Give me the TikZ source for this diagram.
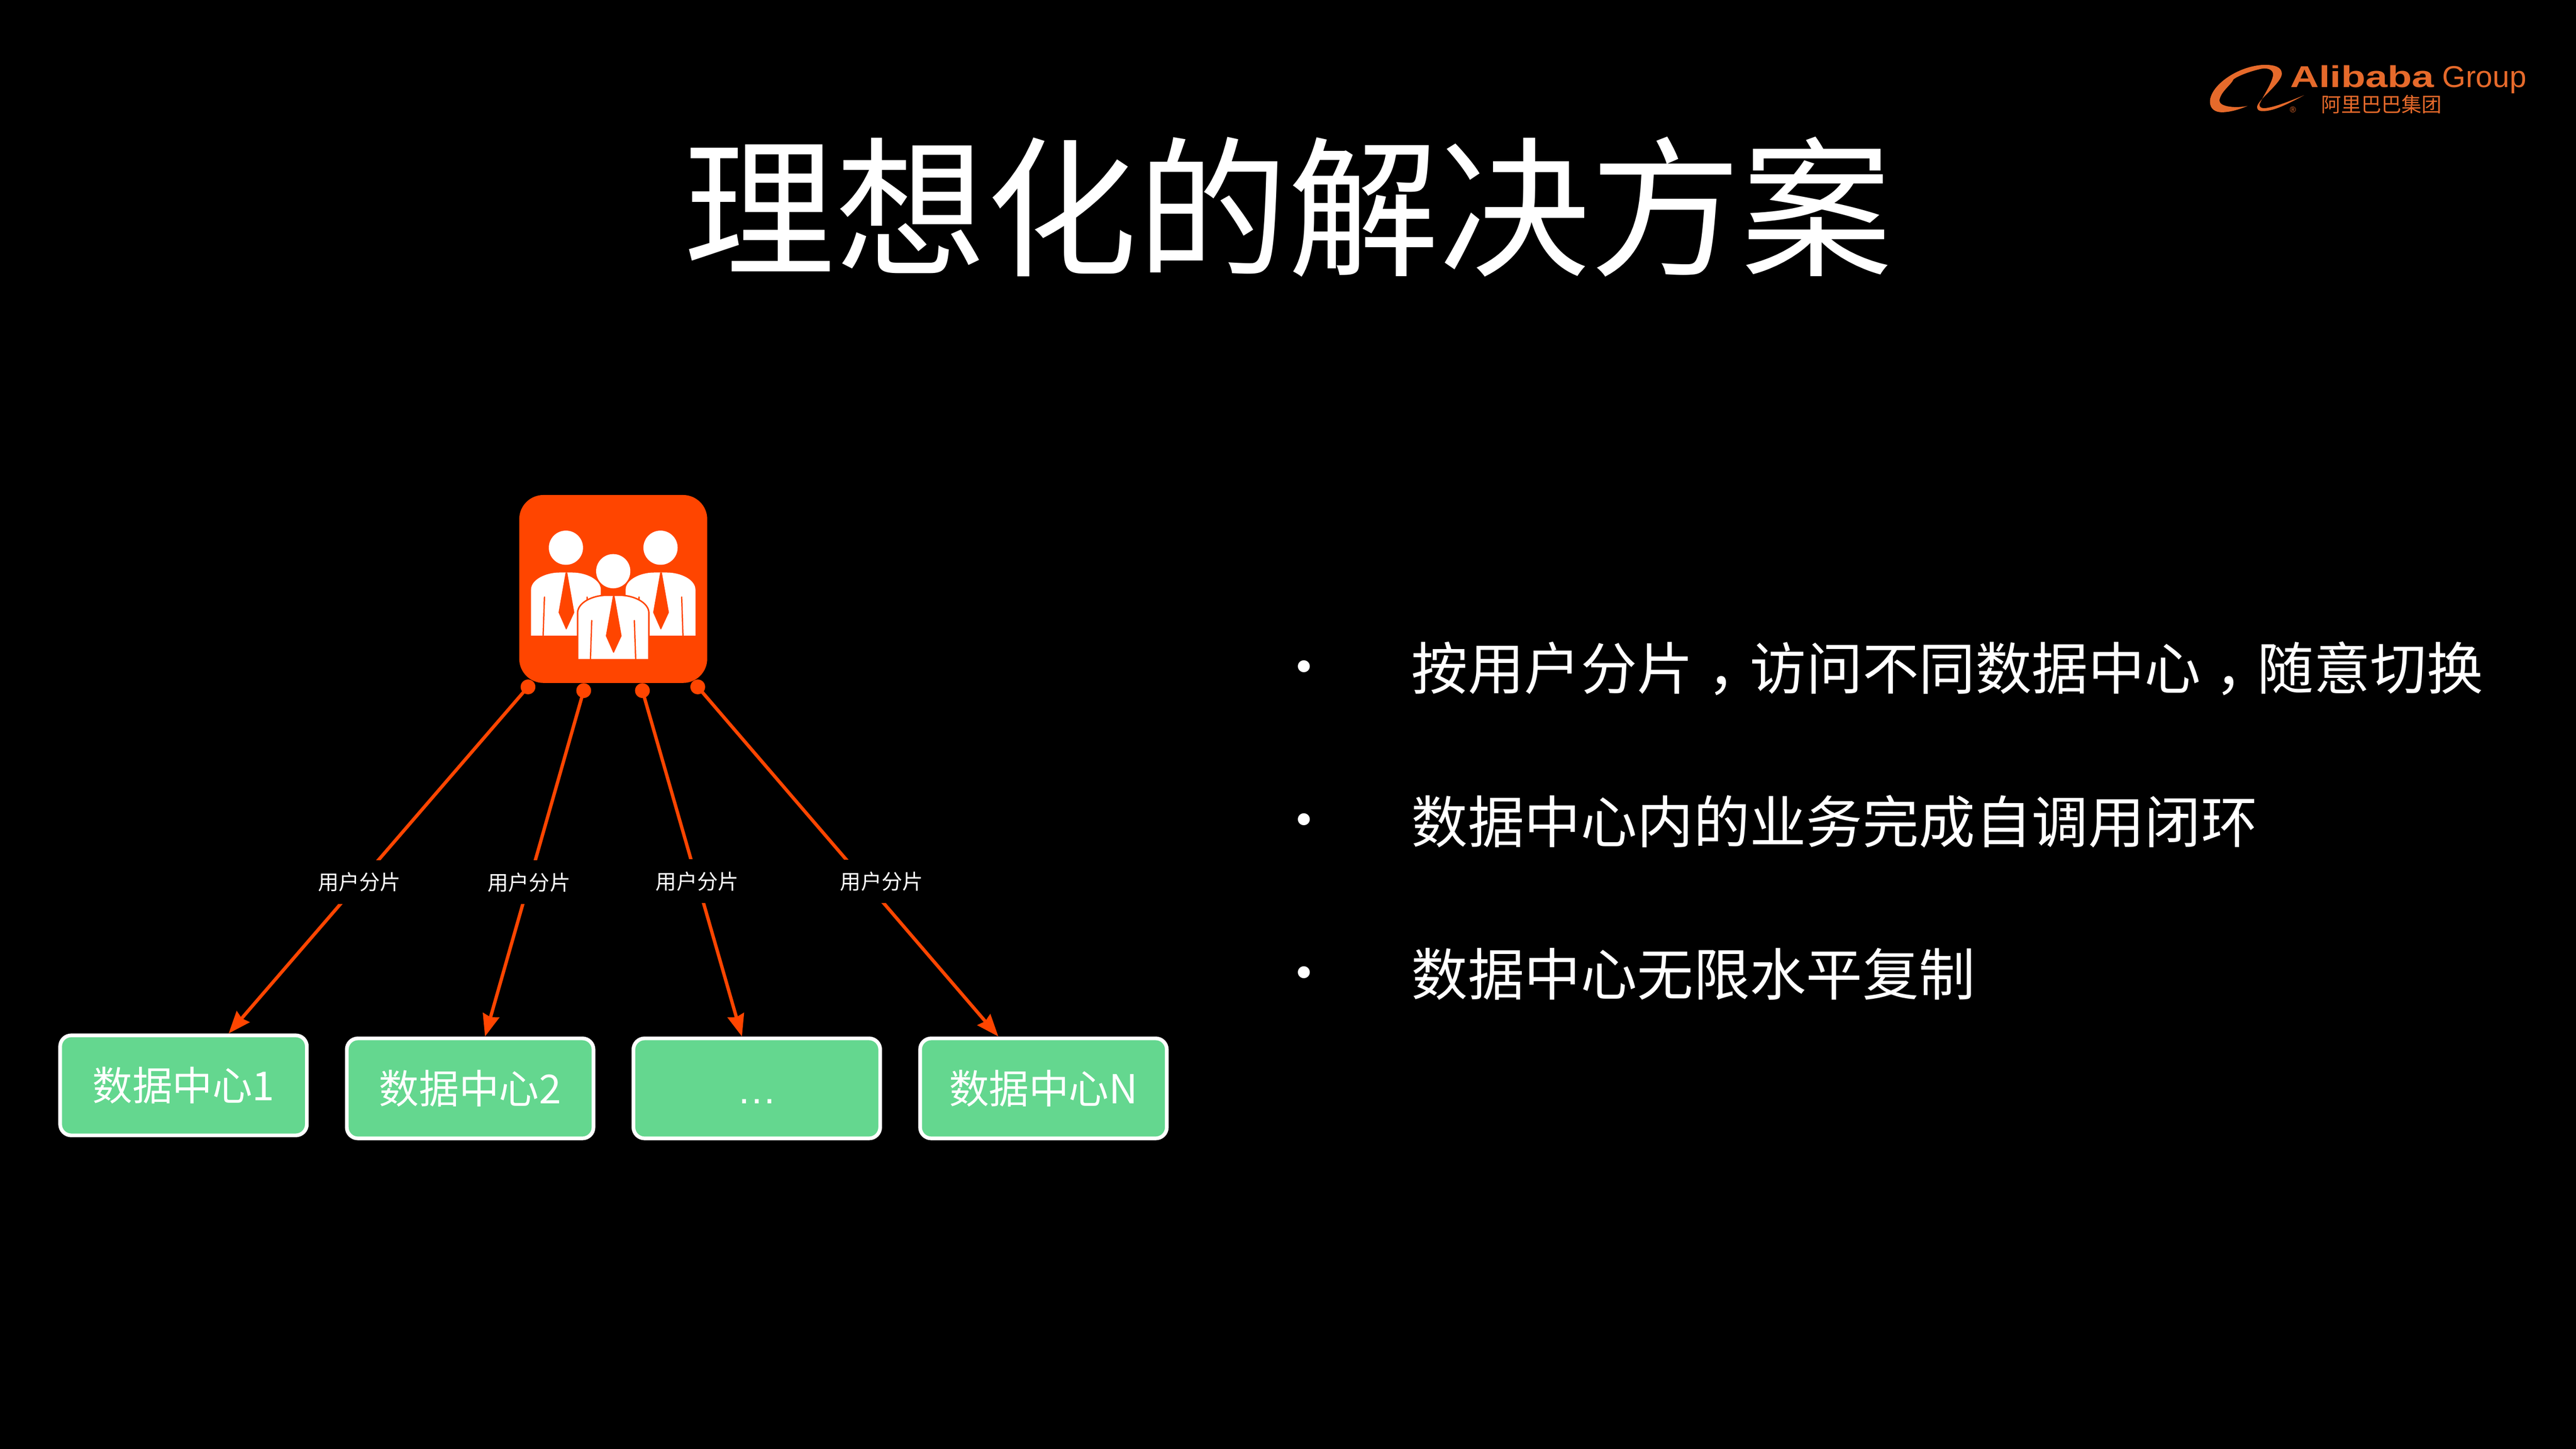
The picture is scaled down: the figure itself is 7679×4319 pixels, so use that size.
\documentclass[tikz,border=0pt]{standalone}
\usepackage{fontspec}
\setmainfont{Noto Sans CJK SC}
\newfontfamily\logofont{Liberation Sans}
\usepackage{xcolor}
\usetikzlibrary{arrows.meta,positioning}
\definecolor{iconred}{HTML}{FF4500}
\definecolor{boxgreen}{HTML}{64D78F}
\definecolor{logoorange}{HTML}{E66A2B}
\newcommand{\midcomma}{\hspace{.25em}^^^^ff0c\hspace{-.25em}}
\tikzset{
	datacenter/.style={draw=white,fill=boxgreen,line width=.11cm,rounded corners=.33cm,minimum width=7.35cm,minimum height=2.98cm,inner sep=0pt,text=white,text height=1.05cm,text depth=.15cm,font=\fontsize{33.9}{36}\selectfont},
	tapdot/.style={circle,fill=iconred,minimum size=.44cm,inner sep=0pt},
	feed/.style={draw=iconred,line width=.1cm,-{Stealth[length=.66cm,width=.5cm,inset=.06cm]}},
	shardtag/.style={fill=black,text=white,inner sep=0pt,minimum height=1.3cm,font=\fontsize{17.6}{19}\selectfont},
	pointline/.style={anchor=west,text=white,inner sep=0pt,font=\fontsize{47.8}{50}\selectfont},
	person/.pic={
		\fill[white] (0,0) circle (51);
		\path[preaction={draw=iconred,line width=.09cm},fill=white] (-104,262) -- (-104,125) .. controls (-104,95) and (-60,74) .. (-19,74) -- (19,74) .. controls (60,74) and (104,95) .. (104,125) -- (104,262) -- cycle;
		\fill[iconred] (-1,74) -- (4,74) -- (25,193) -- (2,243) -- (0,243) -- (-22,193) -- cycle;
		\draw[iconred,line width=.038cm,line cap=round] (-64,147) -- (-68,264) (63,147) -- (67,264);
	}
}
\begin{document}
\begin{tikzpicture}[x=.01cm,y=-.01cm]
	\useasboundingbox (0,0) rectangle (7679,4319);
	\fill[black] (-20,-20) rectangle (7699,4339);
	\node[text=white,inner sep=0pt,font=\fontsize{128}{130}\selectfont] (title) at (3840,617) {理想化的解决方案};
	%
	\node[fill=iconred,rounded corners=.72cm,minimum size=5.6cm,inner sep=0pt] (crew) at (1828,1756) {};
	\pic at (1687,1633) {person};
	\pic at (1969,1633) {person};
	\pic at (1828,1703) {person};
	%
	\node[datacenter] (box1) at (547,3236) {数据中心1};
	\node[datacenter,right=1.08cm of box1,yshift=-.09cm] (box2) {数据中心2};
	\node[datacenter,right=1.08cm of box2] (box3) {\logofont …};
	\node[datacenter,right=1.08cm of box3] (box4) {数据中心N};
	%
	\node[tapdot] (dot1) at (1574,2048) {};
	\node[tapdot] (dot2) at (1740,2059) {};
	\node[tapdot] (dot3) at (1915,2059) {};
	\node[tapdot] (dot4) at (2080,2048) {};
	%
	\draw[feed] (dot1.center) -- node[shardtag,pos=.563] (tag1) {用户分片} (box1.49);
	\draw[feed] (dot2.center) -- node[shardtag,pos=.554] (tag2) {用户分片} (box2.74);
	\draw[feed] (dot3.center) -- node[shardtag,pos=.551] (tag3) {用户分片} (box3.106);
	\draw[feed] (dot4.center) -- node[shardtag,pos=.556,xshift=.5cm] (tag4) {用户分片} (box4.131);
	%
	\node[pointline,anchor=center] (mark1) at (3887,2010) {•};
	\node[pointline,anchor=center] (mark2) at (3887,2466) {•};
	\node[pointline,anchor=center] (mark3) at (3887,2922) {•};
	\node[pointline] (point1) at (4207,1993) {按用户分片\midcomma 访问不同数据中心\midcomma 随意切换};
	\node[pointline] (point2) at (4207,2449) {数据中心内的业务完成自调用闭环};
	\node[pointline] (point3) at (4207,2904) {数据中心无限水平复制};
	%
	\begin{scope}[shift={(6500,130)},x=.00702cm,y=-.00333cm]
		\fill[logoorange] (525,462) .. controls (440,560) and (390,605) .. (350,605) .. controls (330,605) and (325,590) .. (325,565) .. controls (330,500) and (430,350) .. (430,270) .. controls (430,210) and (400,190) .. (355,190) .. controls (240,200) and (125,380) .. (125,520) .. controls (125,590) and (150,615) .. (175,615) .. controls (210,615) and (250,590) .. (285,558) .. controls (240,580) and (165,570) .. (165,510) .. controls (170,430) and (215,370) .. (225,320) .. controls (250,280) and (310,240) .. (345,225) .. controls (375,215) and (395,240) .. (393,285) .. controls (385,370) and (350,470) .. (335,545) .. controls (335,575) and (345,580) .. (360,578) .. controls (400,570) and (470,510) .. (525,462) -- cycle;
	\end{scope}
	\node[anchor=base west,text=logoorange,inner sep=0pt,xscale=1.32,transform shape,font=\logofont\bfseries\fontsize{25.6}{28}\selectfont] (alibaba) at (6826,261) {Alibaba};
	\node[anchor=base west,text=logoorange,inner sep=0pt,font=\logofont\fontsize{25.6}{28}\selectfont] (group) at (7280,261) {Group};
	\node[anchor=west,text=logoorange,inner sep=0pt,font=\fontsize{17}{19}\selectfont] (cnname) at (6919,311) {阿里巴巴集团};
	\node[text=logoorange,inner sep=0pt,font=\logofont\fontsize{7}{8}\selectfont] (regmark) at (6835,327) {®};
\end{tikzpicture}
\end{document}
